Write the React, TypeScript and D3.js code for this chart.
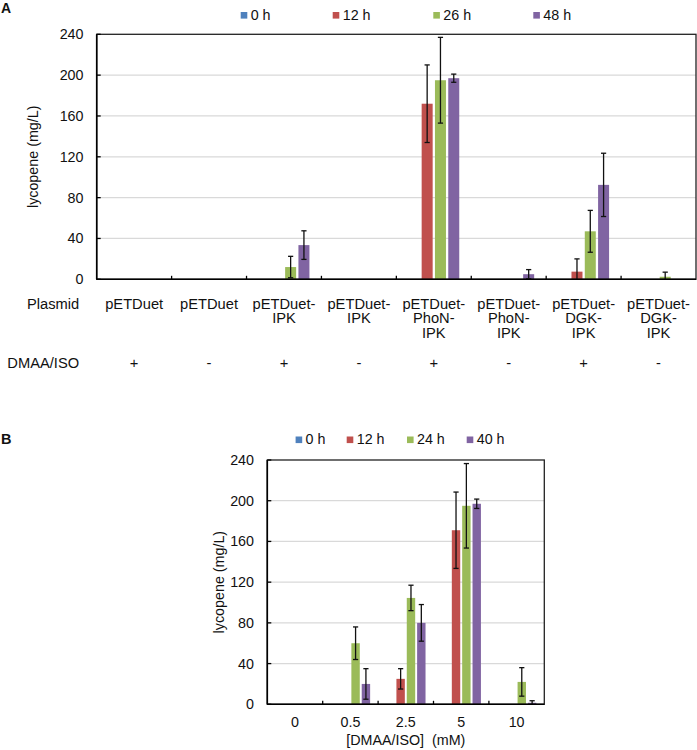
import React from "react";
import * as d3 from "d3";

// ---------- Panel A data ----------
const seriesA = ["0 h", "12 h", "26 h", "48 h"];
const plasmidA = [
  ["pETDuet"],
  ["pETDuet"],
  ["pETDuet-", "IPK"],
  ["pETDuet-", "IPK"],
  ["pETDuet-", "PhoN-", "IPK"],
  ["pETDuet-", "PhoN-", "IPK"],
  ["pETDuet-", "DGK-", "IPK"],
  ["pETDuet-", "DGK-", "IPK"],
];
const dmaaA = ["+", "-", "+", "-", "+", "-", "+", "-"];
const a0h = [0, 0, 0, 0, 0, 0, 0, 0];
const a12h = [0, 0, 0, 0, 172, 0, 7.5, 0];
const a26h = [0, 0, 12, 0, 195, 0, 47, 2.5];
const a48h = [0, 0, 33.5, 0, 197, 5, 92.5, 0];
const a0hErr = [0, 0, 0, 0, 0, 0, 0, 0];
const a12hErr = [0, 0, 0, 0, 38, 0, 12.5, 0];
const a26hErr = [0, 0, 10.5, 0, 42, 0, 20.5, 4.5];
const a48hErr = [0, 0, 14, 0, 4, 4.5, 31, 0];

// ---------- Panel B data ----------
const seriesB = ["0 h", "12 h", "24 h", "40 h"];
const concB = ["0", "0.5", "2.5", "5", "10"];
const b0h = [0, 0, 0, 0, 0];
const b12h = [0, 0, 25, 171, 0];
const b24h = [0, 60, 104.5, 195, 22];
const b40h = [0, 20, 80, 197, 1.5];
const b0hErr = [0, 0, 0, 0, 0];
const b12hErr = [0, 0, 10, 37.5, 0];
const b24hErr = [0, 16, 12.5, 41.5, 14];
const b40hErr = [0, 15, 18, 4.6, 2];

const yTicks = [0, 40, 80, 120, 160, 200, 240];
const colors = ["#4F81BD", "#C0504D", "#9BBB59", "#8064A2"];

const FONT = "'Liberation Sans', Arial, Helvetica, sans-serif";

type PanelCfg = {
  series: string[];
  values: number[][];
  errors: number[][];
  nCat: number;
  left: number;
  right: number;
  top: number;
  bottom: number;
  groupHalf: number;
  barW: number;
  labelRight: number;
  titleX: number;
};

function Panel({ cfg }: { cfg: PanelCfg }) {
  const y = d3.scaleLinear().domain([0, 240]).range([cfg.bottom, cfg.top]);
  const x = d3
    .scaleBand<number>()
    .domain(d3.range(cfg.nCat))
    .range([cfg.left, cfg.right])
    .padding(0);
  const sub = d3
    .scaleBand<string>()
    .domain(cfg.series)
    .range([-cfg.groupHalf, cfg.groupHalf]);
  const inset = (sub.bandwidth() - cfg.barW) / 2;
  const bars: React.ReactNode[] = [];
  const errs: React.ReactNode[] = [];
  cfg.series.forEach((s, si) => {
    cfg.values[si].forEach((v, ci) => {
      const cx = (x(ci) as number) + x.bandwidth() / 2;
      const bx = cx + (sub(s) as number) + inset;
      if (v > 0) {
        bars.push(
          <rect
            key={`b${si}-${ci}`}
            x={bx}
            y={y(v)}
            width={cfg.barW}
            height={y(0) - y(v)}
            fill={colors[si]}
          />
        );
      }
      const e = cfg.errors[si][ci];
      if (e > 0) {
        const ex = bx + cfg.barW / 2;
        const lo = Math.max(0, v - e);
        const hi = v + e;
        errs.push(
          <g key={`e${si}-${ci}`} stroke="#111" strokeWidth={1.3}>
            <line x1={ex} x2={ex} y1={y(lo)} y2={y(hi)} />
            <line x1={ex - 2.6} x2={ex + 2.6} y1={y(hi)} y2={y(hi)} />
            {lo > 0 && <line x1={ex - 2.6} x2={ex + 2.6} y1={y(lo)} y2={y(lo)} />}
          </g>
        );
      }
    });
  });
  const midY = (cfg.top + cfg.bottom) / 2;
  return (
    <g>
      {yTicks
        .filter((t) => t > 0 && t < 240)
        .map((t) => (
          <line
            key={`g${t}`}
            x1={cfg.left}
            x2={cfg.right}
            y1={y(t)}
            y2={y(t)}
            stroke="#D9D9D9"
            strokeWidth={1.2}
          />
        ))}
      {bars}
      {errs}
      <rect
        x={cfg.left}
        y={cfg.top}
        width={cfg.right - cfg.left}
        height={cfg.bottom - cfg.top}
        fill="none"
        stroke="#222"
        strokeWidth={1.3}
      />
      <line x1={cfg.left} x2={cfg.left} y1={cfg.top} y2={cfg.bottom} stroke="#000" strokeWidth={1.6} />
      <line x1={cfg.left} x2={cfg.right} y1={cfg.bottom} y2={cfg.bottom} stroke="#000" strokeWidth={1.6} />
      {yTicks.map((t) => (
        <g key={`t${t}`}>
          <line x1={cfg.left} x2={cfg.left + 4} y1={y(t)} y2={y(t)} stroke="#000" strokeWidth={1.3} />
          <text
            x={cfg.labelRight}
            y={y(t)}
            dy="0.35em"
            textAnchor="end"
            fontSize={14.3}
            fontFamily={FONT}
            fill="#111"
          >
            {t}
          </text>
        </g>
      ))}
      {d3.range(1, cfg.nCat).map((i) => (
        <line
          key={`xt${i}`}
          x1={x(i) as number}
          x2={x(i) as number}
          y1={cfg.bottom}
          y2={cfg.bottom - 3.5}
          stroke="#000"
          strokeWidth={1.3}
        />
      ))}
      <text
        transform={`translate(${cfg.titleX},${midY}) rotate(-90)`}
        textAnchor="middle"
        fontSize={14.3}
        fontFamily={FONT}
        fill="#111"
      >
        lycopene (mg/L)
      </text>
    </g>
  );
}

function Legend({
  labels,
  xs,
  y,
}: {
  labels: string[];
  xs: number[];
  y: number;
}) {
  return (
    <g>
      {labels.map((l, i) => (
        <g key={l}>
          <rect x={xs[i]} y={y - 7.5} width={6.6} height={6.6} fill={colors[i]} />
          <text x={xs[i] + 10} y={y} fontSize={14.3} fontFamily={FONT} fill="#111">
            {l}
          </text>
        </g>
      ))}
    </g>
  );
}

export default function App() {
  const cfgA: PanelCfg = {
    series: seriesA,
    values: [a0h, a12h, a26h, a48h],
    errors: [a0hErr, a12hErr, a26hErr, a48hErr],
    nCat: plasmidA.length,
    left: 96.7,
    right: 696,
    top: 34.3,
    bottom: 279.3,
    groupHalf: 26.6,
    barW: 11,
    labelRight: 83.5,
    titleX: 37.5,
  };
  const cfgB: PanelCfg = {
    series: seriesB,
    values: [b0h, b12h, b24h, b40h],
    errors: [b0hErr, b12hErr, b24hErr, b40hErr],
    nCat: concB.length,
    left: 267.3,
    right: 544.3,
    top: 460,
    bottom: 704.3,
    groupHalf: 20.7,
    barW: 8.4,
    labelRight: 254,
    titleX: 223.5,
  };
  const xA = d3.scaleBand<number>().domain(d3.range(plasmidA.length)).range([cfgA.left, cfgA.right]);
  const xB = d3.scaleBand<number>().domain(d3.range(concB.length)).range([cfgB.left, cfgB.right]);
  const cA = (i: number) => (xA(i) as number) + xA.bandwidth() / 2;
  const cB = (i: number) => (xB(i) as number) + xB.bandwidth() / 2;
  return (
    <svg
      width={697}
      height={750}
      style={{ position: "absolute", left: 0, top: 0, background: "#fff" }}
      fontFamily={FONT}
    >
      <rect x={0} y={0} width={697} height={750} fill="#fff" />
      {/* Panel A */}
      <text x={1} y={13} fontSize={14} fontWeight="bold" fill="#111">
        A
      </text>
      <Legend labels={seriesA} xs={[240.7, 332.7, 433.3, 533.3]} y={19.5} />
      <Panel cfg={cfgA} />
      <text x={27} y={308.5} fontSize={14.7} fill="#111">
        Plasmid
      </text>
      {plasmidA.map((lines, i) =>
        lines.map((ln, j) => (
          <text
            key={`p${i}-${j}`}
            x={cA(i)}
            y={308.5 + j * 14.8}
            textAnchor="middle"
            fontSize={14.7}
            fill="#111"
          >
            {ln}
          </text>
        ))
      )}
      <text x={7.3} y={367.7} fontSize={14.7} fill="#111">
        DMAA/ISO
      </text>
      {dmaaA.map((s, i) => (
        <text key={`d${i}`} x={cA(i)} y={367.7} textAnchor="middle" fontSize={14.7} fill="#111">
          {s}
        </text>
      ))}

      {/* Panel B */}
      <text x={1} y={443.5} fontSize={14.5} fontWeight="bold" fill="#111">
        B
      </text>
      <Legend labels={seriesB} xs={[295.6, 346.7, 407, 466.7]} y={444} />
      <Panel cfg={cfgB} />
      {concB.map((c, i) => (
        <text key={`c${i}`} x={cB(i)} y={727.3} textAnchor="middle" fontSize={14.3} fill="#111">
          {c}
        </text>
      ))}
      <text
        x={(cfgB.left + cfgB.right) / 2}
        y={745}
        textAnchor="middle"
        fontSize={14.3}
        fill="#111"
        style={{ whiteSpace: "pre" }}
      >
        {"[DMAA/ISO]  (mM)"}
      </text>
    </svg>
  );
}
